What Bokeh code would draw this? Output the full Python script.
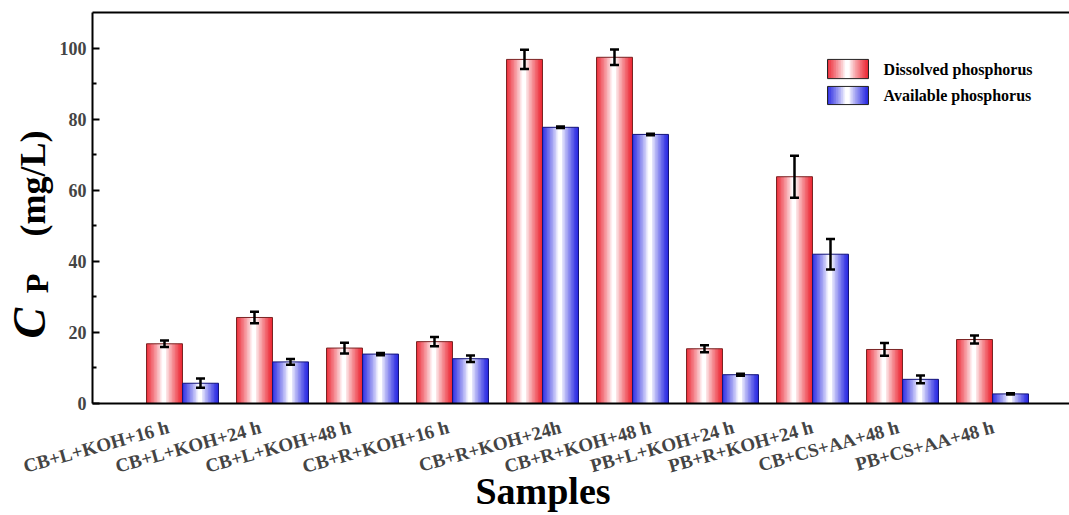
import numpy as np
from bokeh.plotting import figure
from bokeh.layouts import row, column
from bokeh.models import (ColumnDataSource, Whisker, TeeHead, FixedTicker, LinearAxis,
                          Label, Range1d, CustomJSTickFormatter)
from bokeh.embed import file_html
from bokeh.resources import INLINE

# ---------------- data ----------------
samples = ["CB+L+KOH+16 h", "CB+L+KOH+24 h", "CB+L+KOH+48 h", "CB+R+KOH+16 h",
           "CB+R+KOH+24h", "CB+R+KOH+48 h", "PB+L+KOH+24 h", "PB+R+KOH+24 h",
           "CB+CS+AA+48 h", "PB+CS+AA+48 h"]
dissolved = [16.8, 24.2, 15.6, 17.4, 96.8, 97.4, 15.4, 63.8, 15.2, 18.0]
dissolved_err = [0.9, 1.6, 1.5, 1.3, 2.7, 2.2, 1.0, 5.9, 1.8, 1.1]
available = [5.7, 11.7, 13.9, 12.6, 77.7, 75.7, 8.1, 42.0, 6.8, 2.7]
available_err = [1.3, 0.8, 0.3, 0.9, 0.2, 0.2, 0.3, 4.3, 1.1, 0.15]
series_names = ["Dissolved phosphorus", "Available phosphorus"]
y_ticks = [0, 20, 40, 60, 80, 100]
y_minor = [10, 30, 50, 70, 90]
x_title = "Samples"

# ---------------- style ----------------
FONT = "Liberation Serif"
RED = (236, 44, 56)
BLUE = (44, 44, 226)
RED_EDGE = "#7a2424"
BLUE_EDGE = "#14147a"
BAR_W = 0.4
N_STRIPS = 24
label_shift_px = [-14, -12, -12, -4, 18, 18, 11, 0, -4, 1]
PX_PER_X = 90.0
TOTAL_W = 1069
LABEL_W = 55          # width of the y-title strip
AXIS_BORDER = 37      # room for the y tick labels
FRAME_TOP = 12
FRAME_H = 391
TOP_PAD = 12          # room under the frame for the "0" label
TOP_H = FRAME_TOP + FRAME_H + TOP_PAD
BOT_H = 515 - TOP_H   # canvas height of the x-label strip
FRAME_LEFT = LABEL_W + AXIS_BORDER

centers = np.arange(1, len(samples) + 1, dtype=float)
y_range = Range1d(0, 110)
x_range = Range1d(0, (TOTAL_W - FRAME_LEFT) / PX_PER_X)


def shade(base, t):
    f = min(1.0, max(0.0, (abs(t - 0.48) - 0.04) / 0.44)) ** 0.85
    r, g, b = (int(round(255 - (255 - c) * f)) for c in base)
    return "#%02x%02x%02x" % (r, g, b)


def gradient_strips(xc, width, bottoms, tops, base):
    L, R, B, T, C = [], [], [], [], []
    step = width / N_STRIPS
    for c, b0, t0 in zip(xc, bottoms, tops):
        left = c - width / 2
        for k in range(N_STRIPS):
            t = (k + 0.5) / N_STRIPS
            L.append(left + k * step)
            R.append(left + (k + 1) * step + (step * 0.35 if k < N_STRIPS - 1 else 0))
            B.append(b0)
            T.append(t0)
            C.append(shade(base, t))
    return dict(left=L, right=R, bottom=B, top=T, color=C)


def clean(fig):
    fig.xgrid.visible = False
    fig.ygrid.visible = False
    fig.outline_line_color = None
    fig.background_fill_color = "white"
    fig.border_fill_color = "white"


# ---------------- main plot ----------------
p = figure(width=TOTAL_W - LABEL_W, height=TOP_H, x_range=x_range, y_range=y_range,
           output_backend="svg", toolbar_location=None,
           min_border_left=AXIS_BORDER, min_border_right=0, min_border_top=FRAME_TOP,
           min_border_bottom=TOP_PAD)
clean(p)

red_x = centers - BAR_W / 2
blue_x = centers + BAR_W / 2

for xs, vals, base, edge in [(red_x, dissolved, RED, RED_EDGE), (blue_x, available, BLUE, BLUE_EDGE)]:
    src = ColumnDataSource(gradient_strips(xs, BAR_W, [0] * len(vals), vals, base))
    p.quad(left="left", right="right", bottom="bottom", top="top", fill_color="color",
           line_color=None, source=src)
    p.vbar(x=xs, width=BAR_W, top=vals, bottom=0, fill_color=None, line_color=edge, line_width=1)

for xs, vals, errs in [(red_x, dissolved, dissolved_err), (blue_x, available, available_err)]:
    es = ColumnDataSource(dict(x=xs, upper=[v + e for v, e in zip(vals, errs)],
                               lower=[v - e for v, e in zip(vals, errs)]))
    w = Whisker(base="x", upper="upper", lower="lower", source=es, line_width=2.5,
                line_color="black", level="overlay",
                upper_head=TeeHead(size=9, line_width=2.5, line_color="black"),
                lower_head=TeeHead(size=9, line_width=2.5, line_color="black"))
    p.add_layout(w)

# legend (manual, gradient swatches)
leg_x0, leg_x1 = 8.167, 8.622
leg_rows = [(91.4, 96.8, RED), (84.1, 89.2, BLUE)]
for (b0, t0, base), name in zip(leg_rows, series_names):
    src = ColumnDataSource(gradient_strips([(leg_x0 + leg_x1) / 2], leg_x1 - leg_x0, [b0], [t0], base))
    p.quad(left="left", right="right", bottom="bottom", top="top", fill_color="color",
           line_color=None, source=src)
    p.quad(left=[leg_x0], right=[leg_x1], bottom=[b0], top=[t0], fill_color=None,
           line_color="#222222", line_width=1)
    p.add_layout(Label(x=8.79, y=(b0 + t0) / 2, text=name, text_font=FONT,
                       text_font_style="bold", text_font_size="16px", text_baseline="middle",
                       text_align="left", text_color="black"))

yax = p.yaxis[0]
yax.ticker = FixedTicker(ticks=y_ticks, minor_ticks=y_minor)
yax.major_tick_in = 7
yax.major_tick_out = 0
yax.minor_tick_in = 4
yax.minor_tick_out = 0
yax.major_tick_line_width = 2
yax.minor_tick_line_width = 2
yax.axis_line_width = 2
yax.major_label_text_font = FONT
yax.major_label_text_font_style = "bold"
yax.major_label_text_font_size = "18px"
yax.major_label_standoff = 6
yax.axis_label = None

xax_top = p.xaxis[0]
xax_top.ticker = FixedTicker(ticks=[], minor_ticks=[])
xax_top.major_label_text_font_size = "0px"
xax_top.major_label_standoff = 0
xax_top.major_tick_line_color = None
xax_top.minor_tick_line_color = None
xax_top.axis_line_width = 2

top_ax = LinearAxis(ticker=FixedTicker(ticks=[]), major_label_text_font_size="0px",
                    major_tick_line_color=None, minor_tick_line_color=None,
                    major_label_standoff=0, axis_line_width=2)
p.add_layout(top_ax, "above")

# ---------------- y-axis title strip: C_P (mg/L) ----------------
q = figure(width=LABEL_W, height=TOP_H, x_range=Range1d(0, LABEL_W), y_range=y_range,
           output_backend="svg", toolbar_location=None, x_axis_location=None,
           y_axis_location=None, min_border_left=0, min_border_right=0,
           min_border_top=FRAME_TOP, min_border_bottom=TOP_PAD)
clean(q)
q.add_layout(Label(x=29, y=18.3, text="C", angle=np.pi / 2, text_font=FONT,
                   text_font_style="bold italic", text_font_size="46px",
                   text_align="left", text_baseline="middle", text_color="black"))
q.add_layout(Label(x=36, y=31.0, text="P", angle=np.pi / 2, text_font=FONT,
                   text_font_style="bold", text_font_size="32px",
                   text_align="left", text_baseline="middle", text_color="black"))
q.add_layout(Label(x=32, y=47.0, text="(mg/L)", angle=np.pi / 2, text_font=FONT,
                   text_font_style="bold", text_font_size="36px",
                   text_align="left", text_baseline="middle", text_color="black"))

# ---------------- x tick labels + x title strip ----------------
b = figure(width=TOTAL_W, height=BOT_H, x_range=x_range, y_range=Range1d(0, 1),
           output_backend="svg", toolbar_location=None, y_axis_location=None,
           min_border_left=FRAME_LEFT, min_border_right=0, min_border_top=0)
clean(b)
tick_pos = [c + s / PX_PER_X for c, s in zip(centers, label_shift_px)]
xax = b.xaxis[0]
xax.ticker = FixedTicker(ticks=tick_pos, minor_ticks=[])
xax.formatter = CustomJSTickFormatter(args=dict(labels=samples),
                                      code="return labels[index];")
xax.major_tick_line_color = None
xax.minor_tick_line_color = None
xax.axis_line_color = None
xax.major_label_orientation = 0.27
xax.major_label_text_font = FONT
xax.major_label_text_font_style = "bold"
xax.major_label_text_font_size = "19px"
xax.major_label_standoff = 2
# x title, nudged left with trailing no-break spaces
xax.axis_label = x_title + "\u00a0" * 8
xax.axis_label_text_font = FONT
xax.axis_label_text_font_style = "bold"
xax.axis_label_text_font_size = "38px"
xax.axis_label_text_color = "black"
xax.axis_label_standoff = -20

layout = column(row(q, p, spacing=0), b, spacing=0)
open("out.html", "w").write(file_html(layout, INLINE))
